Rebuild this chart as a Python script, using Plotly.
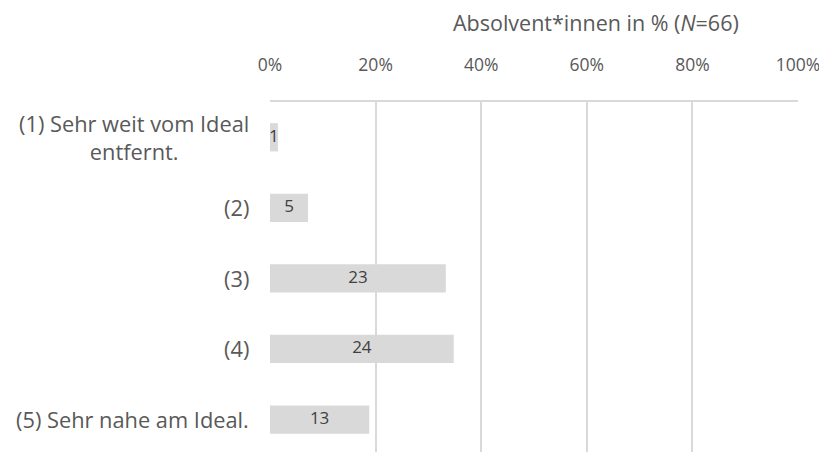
import plotly.graph_objects as go

categories = ["(1) Sehr weit vom Ideal<br>entfernt.", "(2)", "(3)", "(4)", "(5) Sehr nahe am Ideal."]
counts = [1, 5, 23, 24, 13]
percent = [1.5, 7.2, 33.3, 34.8, 18.8]
x_ticks = [0, 20, 40, 60, 80, 100]
x_tick_labels = ["0%", "20%", "40%", "60%", "80%", "100%"]
title_text = "Absolvent*innen in % (<i>N</i>=66)"

FONT = "Open Sans"
GREY = "#595959"
pos = list(range(len(categories)))

# page body has an 8px margin -> compensate
W, H = 819, 444
L, R, T, B = 262, 29, 94, 0
plot_h = H - T - B
LABEL_SIZE = 21.8

fig = go.Figure()
fig.add_trace(go.Bar(
    x=percent, y=pos, orientation="h",
    marker=dict(color="#d9d9d9", line=dict(width=0)),
    width=0.4, hoverinfo="skip",
))
fig.add_trace(go.Scatter(
    x=[p / 2 for p in percent], y=pos, mode="text",
    text=[str(c) for c in counts],
    textfont=dict(family=FONT, size=17, color="#404040"),
    cliponaxis=False, hoverinfo="skip",
))
for i, c in enumerate(categories):
    fig.add_annotation(
        x=0, xref="paper", xshift=-19, xanchor="right",
        y=i, yref="y", yanchor="middle",
        text=c, align="center", showarrow=False,
        font=dict(family=FONT, size=LABEL_SIZE, color=GREY),
    )
fig.add_annotation(
    x=0.617, xref="paper", y=(H - 15) / plot_h, yref="paper", yanchor="middle",
    showarrow=False,
    text=title_text, font=dict(family=FONT, size=21.5, color=GREY),
)

fig.update_layout(
    width=W, height=H,
    margin=dict(l=L, r=R, t=T, b=B, autoexpand=False),
    paper_bgcolor="white", plot_bgcolor="white",
    showlegend=False,
    xaxis=dict(
        side="top", range=[0, 100], tickvals=x_ticks, ticktext=x_tick_labels,
        showgrid=True, gridcolor="#d9d9d9", gridwidth=1.5,
        showline=True, linecolor="#d9d9d9", linewidth=1.5,
        zeroline=False, ticks="", ticklabelstandoff=22,
        tickfont=dict(family=FONT, size=17.5, color=GREY),
    ),
    yaxis=dict(
        range=[4.46, -0.5], showticklabels=False, showgrid=False,
        zeroline=False, showline=False,
    ),
)
fig.write_html("out.html")
